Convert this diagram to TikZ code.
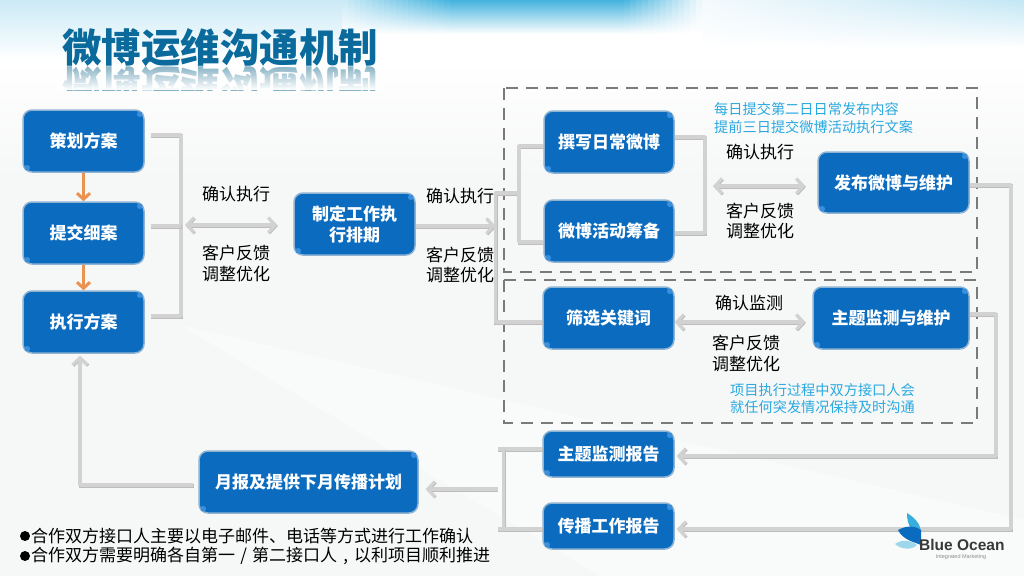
\documentclass[tikz,border=0pt]{standalone}
\usepackage{fontspec}
\setmainfont{Noto Sans CJK SC}
\newfontfamily\latinf{Liberation Sans}
\usetikzlibrary{arrows.meta,calc,fadings}
\definecolor{boxblue}{HTML}{0B6BBF}
\definecolor{boxedge}{HTML}{8FB3D3}
\definecolor{glintc}{HTML}{3A8FDC}
\definecolor{conn}{HTML}{D2D2D2}
\definecolor{connsh}{HTML}{BDBDBD}
\definecolor{note}{HTML}{2AA9E0}
\definecolor{dashc}{HTML}{7A7A7A}
\definecolor{titletop}{HTML}{0E84B4}
\definecolor{titlelow}{HTML}{0A6A9C}
\definecolor{page}{HTML}{F6F7F7}
\definecolor{skym}{HTML}{38AEDC}
\definecolor{skyr}{HTML}{C9E7F2}
\definecolor{orangec}{HTML}{EA9350}
\tikzset{
  bx/.style={draw=boxedge,line width=1.5pt,fill=boxblue,rounded corners=9pt,text=white,
    font=\bfseries\fontsize{17}{21}\selectfont,align=center,inner sep=0pt},
  lab/.style={font=\fontsize{17}{20}\selectfont,text=black,inner sep=0pt},
  bluelab/.style={font=\fontsize{14.2}{18}\selectfont,text=note,inner sep=0pt,anchor=west},
  bul/.style={font=\fontsize{17}{20}\selectfont,text=black,inner sep=0pt,anchor=west},
  wire/.style={draw=conn,line width=3.5pt,line join=round,
    preaction={draw=connsh,line width=3.5pt,transform canvas={shift={(0.7pt,-0.9pt)}}}},
  tipped/.style={wire,-{Straight Barb[length=7pt,width=15pt,line width=3pt]}},
  both/.style={wire,{Straight Barb[length=7pt,width=15pt,line width=3pt]}-{Straight Barb[length=7pt,width=15pt,line width=3pt]}},
  orangearrow/.style={draw=orangec,line width=3.5pt,-{Straight Barb[length=6pt,width=13pt,line width=3pt]}},
  dbox/.style={draw=dashc,line width=2.2pt,dash pattern=on 12pt off 8pt},
}
\newcommand{\glint}[1]{%
  \fill[glintc] ([shift={(-5,5)}]#1.north east) circle (2.8);
  \fill[glintc] ([shift={(5,-5)}]#1.south west) circle (2.8);}
\begin{document}
\begin{tikzpicture}[x=1pt,y=-1pt]
\useasboundingbox (0,0) rectangle (1024,576);
% background
\fill[white] (0,0) rectangle (1024,60);
\shade[top color=white,bottom color=page] (0,60) rectangle (1024,180);
\fill[page] (0,180) rectangle (1024,576);
% sky band, built of vertical gradient columns
\foreach \cx in {0,6,...,1020}{
  \pgfmathsetmacro{\pp}{\cx<340 ? 26 : (\cx<450 ? 26+(\cx-340)*0.62 : (\cx<620 ? 94 : (\cx<700 ? 94-(\cx-620)*1.1 : 6+(\cx-700)*0.075)))}
  \pgfmathsetmacro{\hh}{\cx<340 ? 60 : (\cx<700 ? 34 : 48)}
  \shade[top color=skym!\pp!white,bottom color=white] (\cx,0) rectangle (\cx+6.5,\hh);
}
\fill[white,opacity=.4] (180,325) -- (600,576) -- (1024,576) -- (1024,520) -- cycle;
% title
\begin{scope}
\clip (55,66) rectangle (385,90);
\node[inner sep=0pt,text=titletop!60!gray,font=\bfseries\fontsize{39.5}{40}\selectfont,yscale=-1,opacity=.6] (titlerefl) at (220,85) {微博运维沟通机制};
\fill[white,path fading=north] (55,66) rectangle (385,90);
\end{scope}
\node[inner sep=0pt,text=titlelow,font=\bfseries\fontsize{39.5}{40}\selectfont] (title) at (220,48) {微博运维沟通机制};
% dashed frames
\draw[dbox] (504,88) rectangle (977,272);
\draw[dbox] (504,280) rectangle (977,423);
% nodes
\node[bx,minimum width=121pt,minimum height=62pt] (a1) at (83.5,141) {策划方案};
\node[bx,minimum width=121pt,minimum height=62pt] (a2) at (83.5,233) {提交细案};
\node[bx,minimum width=121pt,minimum height=62pt] (a3) at (83.5,322) {执行方案};
\node[bx,minimum width=121pt,minimum height=62pt] (b) at (354.5,224) {制定工作执\\行排期};
\node[bx,minimum width=130pt,minimum height=62pt] (c1) at (609,142) {撰写日常微博};
\node[bx,minimum width=130pt,minimum height=62pt] (c2) at (609,231) {微博活动筹备};
\node[bx,minimum width=131pt,minimum height=62pt] (c3) at (608.5,318) {筛选关键词};
\node[bx,minimum width=151pt,minimum height=61pt] (d1) at (893.5,182.5) {发布微博与维护};
\node[bx,minimum width=156pt,minimum height=62pt] (d2) at (891,318) {主题监测与维护};
\node[bx,minimum width=131pt,minimum height=46pt] (e1) at (608.5,454) {主题监测报告};
\node[bx,minimum width=131pt,minimum height=46pt] (e2) at (608.5,526) {传播工作报告};
\node[bx,minimum width=219pt,minimum height=62pt] (f) at (308.5,482) {月报及提供下月传播计划};
\foreach \n in {a1,a2,a3,b,c1,c2,c3,d1,d2,e1,e2,f}{\glint{\n}}
% junction coordinates
\coordinate (ja1) at (181,135);
\coordinate (ja2) at (181,226);
\coordinate (ja3) at (181,316);
\coordinate (jb) at (495.5,226);
\coordinate (jc) at (495.5,193);
\coordinate (jc3) at (495.5,322);
\coordinate (jl) at (519,193);
\coordinate (jlt) at (519,146);
\coordinate (jlb) at (519,242);
\coordinate (jr1) at (705,137);
\coordinate (jr2) at (705,233);
\coordinate (mid1) at (705,186);
\coordinate (jd1) at (1011,185);
\coordinate (jd1b) at (1011,529);
\coordinate (jd2) at (996,314);
\coordinate (jd2b) at (996,456);
\coordinate (je1) at (503.5,449);
\coordinate (je2) at (503.5,529);
\coordinate (je) at (503.5,489);
\coordinate (ar) at (80,485);
% connectors
\draw[orangearrow] (a1.south) -- (a2.north);
\draw[orangearrow] (a2.south) -- (a3.north);
\draw[wire] ($(a1.east |- ja1)+(6,0)$) -- (ja1) -- (ja3) -- ($(a3.east |- ja3)+(6,0)$);
\draw[wire] ($(a2.east |- ja2)+(6,0)$) -- (ja2);
\draw[both] ($(ja2)+(4,-1)$) -- ($(b.west |- ja2)+(-16,-1)$);
\draw[tipped] (b.east |- jb) -- (jb);
\draw[wire] (jl) -- (jc) -- (jc3) -- (c3.west |- jc3);
\draw[wire] (c1.west |- jlt) -- (jlt) -- (jlb) -- (c2.west |- jlb);
\draw[wire] (c1.east |- jr1) -- (jr1) -- (jr2) -- (c2.east |- jr2);
\draw[both] ($(mid1)+(8,0)$) -- ($(d1.west |- mid1)+(-12,0)$);
\draw[both] (c3.east |- jc3) -- ($(d2.west |- jc3)+(-7,0)$);
\draw[tipped] (d1.east |- jd1) -- (jd1) -- (jd1b) -- ($(e2.east |- jd1b)+(2,0)$);
\draw[tipped] (d2.east |- jd2) -- (jd2) -- (jd2b) -- ($(e1.east |- jd2b)+(2,0)$);
\draw[wire] (e1.west |- je1) -- ($(je1)+(-6,0)$);
\draw[wire] (je1) -- (je2);
\draw[wire] (e2.west |- je2) -- ($(je2)+(-6,0)$);
\draw[tipped] ($(je)+(-6,0)$) -- ($(f.east |- je)+(7,0)$);
\draw[tipped] ($(f.west |- ar)+(-5,0)$) -- (ar) -- ($(a3.south -| ar)+(0,2)$);
% labels
\node[lab] (l1) at (236,194) {确认执行};
\node[lab] (l2) at (236,253) {客户反馈};
\node[lab] (l3) at (236,274) {调整优化};
\node[lab] (l4) at (460,196) {确认执行};
\node[lab] (l5) at (460,255) {客户反馈};
\node[lab] (l6) at (460,275) {调整优化};
\node[lab] (l7) at (760,152) {确认执行};
\node[lab] (l8) at (760,211) {客户反馈};
\node[lab] (l9) at (760,231) {调整优化};
\node[lab] (l10) at (749,303) {确认监测};
\node[lab] (l11) at (746,343) {客户反馈};
\node[lab] (l12) at (746,364) {调整优化};
\node[bluelab] (n1) at (714,109) {每日提交第二日日常发布内容};
\node[bluelab] (n2) at (714,127) {提前三日提交微博活动执行文案};
\node[bluelab] (n3) at (730,390) {项目执行过程中双方接口人会};
\node[bluelab] (n4) at (730,407) {就任何突发情况保持及时沟通};
\fill[black] (25,536) circle (5);
\fill[black] (25,556) circle (5);
\node[bul] (b1) at (31,536) {合作双方接口人主要以电子邮件、电话等方式进行工作确认};
\node[bul] (b2) at (31,556) {合作双方需要明确各自第一\makebox[17pt]{/}第二接口人\makebox[17pt]{,}以利项目顺利推进};
% logo
\fill[skym] (907,513) .. controls (915,518) and (921,524) .. (921,534) -- (912,530) .. controls (908,525) and (907,519) .. (907,513) -- cycle;
\fill[boxblue] (898,530) .. controls (905,526) and (914,525) .. (921,530) -- (921,545) .. controls (914,542) and (903,540) .. (898,530) -- cycle;
\fill[skyr!70!skym] (895,544) .. controls (902,539) and (910,540) .. (917,545) .. controls (912,550) and (902,550) .. (895,544) -- cycle;
\node[inner sep=0pt,text=black!78,font=\latinf\bfseries\fontsize{15.5}{16}\selectfont,anchor=west] (logo) at (919,545) {Blue Ocean};
\node[inner sep=0pt,text=black!45,font=\latinf\fontsize{5.5}{6}\selectfont] (logob) at (961,557) {Integrated Marketing};
\end{tikzpicture}
\end{document}
